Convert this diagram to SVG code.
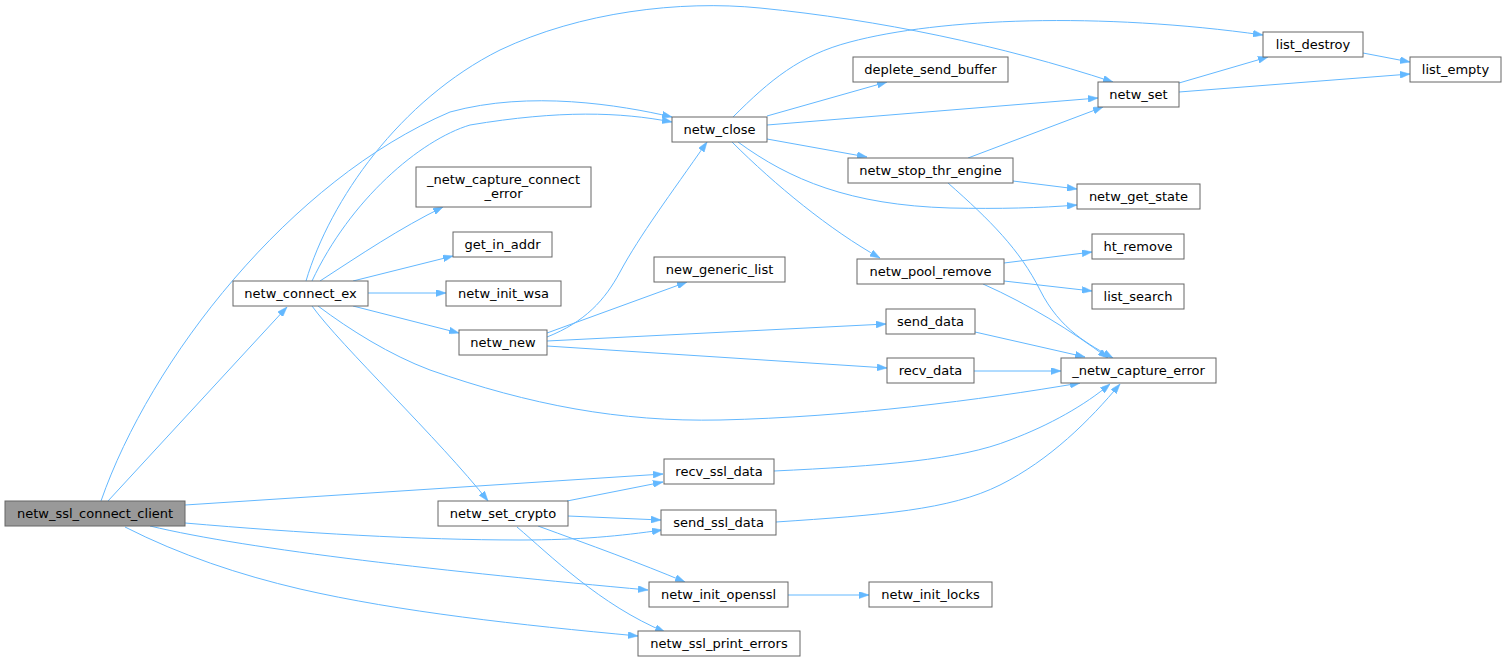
<svg xmlns="http://www.w3.org/2000/svg" width="1507" height="662" viewBox="0 0 1507 662">
<style>
.n rect{fill:#ffffff;stroke:#666666;stroke-width:1}
.n.root rect{fill:#999999}
.n text{font-family:"DejaVu Sans","Liberation Sans",sans-serif;font-size:13px;fill:#000000;text-anchor:middle}
.e path{fill:none;stroke:#63b8ff;stroke-width:1;marker-end:url(#ah)}
</style>
<defs>
<marker id="ah" viewBox="0 0 10 7" refX="10" refY="3.5" markerWidth="10" markerHeight="7" markerUnits="userSpaceOnUse" orient="auto">
<path d="M0,0 L10,3.5 L0,7 z" fill="#63b8ff" stroke="#63b8ff" stroke-width="0.5"/>
</marker>
</defs>
<rect width="1507" height="662" fill="#ffffff"/>
<g id="edges" class="e">
<path d="M108,501 L287,307"/>
<path d="M101,501 C150,360 290,180 450,112 C530,90 620,105 672,117"/>
<path d="M306,281 C330,200 400,100 500,50 C580,12 680,0 760,8 C880,20 1000,45 1113,82"/>
<path d="M312,281 C350,200 420,140 470,125 C560,110 620,112 672,122"/>
<path d="M320,281 C360,255 400,228 443,207"/>
<path d="M353,281 L453,256"/>
<path d="M368,293 L446,293"/>
<path d="M353,306 L459,333"/>
<path d="M312,306 C340,345 440,440 488,501"/>
<path d="M318,306 C350,330 390,355 430,370 C530,405 620,422 720,420 C850,417 980,400 1080,383"/>
<path d="M547,337 C585,322 605,300 620,272 C640,235 670,195 707,142"/>
<path d="M547,333 L687,282"/>
<path d="M547,341 L886,324"/>
<path d="M547,346 L887,368"/>
<path d="M733,117 C770,80 800,55 850,42 C940,18 1100,12 1263,35"/>
<path d="M767,116 L887,82"/>
<path d="M767,125 L1098,98"/>
<path d="M767,139 L867,157"/>
<path d="M738,142 C790,180 850,205 950,208 C1000,209 1040,208 1077,205"/>
<path d="M732,142 C775,185 830,230 880,258"/>
<path d="M968,158 L1103,107"/>
<path d="M1013,181 L1077,189"/>
<path d="M948,183 C990,220 1020,250 1040,290 C1060,330 1090,345 1113,358"/>
<path d="M983,284 C1030,305 1070,330 1108,358"/>
<path d="M1004,263 L1092,252"/>
<path d="M1004,281 L1092,291"/>
<path d="M975,332 L1085,357"/>
<path d="M974,371 L1061,371"/>
<path d="M1179,83 L1268,57"/>
<path d="M1179,92 L1410,74"/>
<path d="M1363,53 L1410,62"/>
<path d="M185,505 L663,474"/>
<path d="M185,523 C300,533 420,540 520,540 C580,540 620,536 662,530"/>
<path d="M150,526 C250,550 450,572 648,590"/>
<path d="M125,527 C180,555 240,575 300,589 C400,612 520,625 638,636"/>
<path d="M567,501 L663,482"/>
<path d="M568,516 L661,520"/>
<path d="M538,526 C590,545 640,563 685,582"/>
<path d="M517,527 C550,555 600,605 665,632"/>
<path d="M774,471 C880,466 960,460 1010,440 C1050,425 1085,405 1110,384"/>
<path d="M776,522 C880,515 950,510 1000,485 C1050,460 1090,420 1120,384"/>
<path d="M788,595 L869,595"/>
</g>
<g id="netw_ssl_connect_client" class="n root"><rect x="5" y="501" width="180" height="25"/><text x="95" y="518">netw_ssl_connect_client</text></g>
<g id="netw_connect_ex" class="n"><rect x="233" y="281" width="135" height="25"/><text x="300.5" y="298">netw_connect_ex</text></g>
<g id="_netw_capture_connect_error" class="n"><rect x="416" y="167" width="175" height="40"/><text x="503.5" y="183.5">_netw_capture_connect</text><text x="503.5" y="197.5">_error</text></g>
<g id="get_in_addr" class="n"><rect x="453" y="232" width="99" height="25"/><text x="502.5" y="249">get_in_addr</text></g>
<g id="netw_init_wsa" class="n"><rect x="446" y="281" width="115" height="25"/><text x="503.5" y="298">netw_init_wsa</text></g>
<g id="netw_new" class="n"><rect x="459" y="330" width="88" height="25"/><text x="503" y="347">netw_new</text></g>
<g id="netw_set_crypto" class="n"><rect x="438" y="501" width="130" height="25"/><text x="503" y="518">netw_set_crypto</text></g>
<g id="netw_close" class="n"><rect x="672" y="117" width="95" height="25"/><text x="719.5" y="134">netw_close</text></g>
<g id="new_generic_list" class="n"><rect x="654" y="257" width="131" height="25"/><text x="719.5" y="274">new_generic_list</text></g>
<g id="recv_ssl_data" class="n"><rect x="664" y="459" width="110" height="25"/><text x="719" y="476">recv_ssl_data</text></g>
<g id="send_ssl_data" class="n"><rect x="661" y="510" width="115" height="25"/><text x="718.5" y="527">send_ssl_data</text></g>
<g id="netw_init_openssl" class="n"><rect x="649" y="582" width="139" height="25"/><text x="718.5" y="599">netw_init_openssl</text></g>
<g id="netw_ssl_print_errors" class="n"><rect x="638" y="631" width="162" height="25"/><text x="719" y="648">netw_ssl_print_errors</text></g>
<g id="deplete_send_buffer" class="n"><rect x="853" y="57" width="155" height="25"/><text x="930.5" y="74">deplete_send_buffer</text></g>
<g id="netw_stop_thr_engine" class="n"><rect x="848" y="158" width="165" height="25"/><text x="930.5" y="175">netw_stop_thr_engine</text></g>
<g id="netw_pool_remove" class="n"><rect x="857" y="259" width="147" height="25"/><text x="930.5" y="276">netw_pool_remove</text></g>
<g id="send_data" class="n"><rect x="886" y="309" width="89" height="25"/><text x="930.5" y="326">send_data</text></g>
<g id="recv_data" class="n"><rect x="887" y="358" width="87" height="25"/><text x="930.5" y="375">recv_data</text></g>
<g id="netw_init_locks" class="n"><rect x="869" y="582" width="123" height="25"/><text x="930.5" y="599">netw_init_locks</text></g>
<g id="netw_set" class="n"><rect x="1098" y="82" width="81" height="25"/><text x="1138.5" y="99">netw_set</text></g>
<g id="netw_get_state" class="n"><rect x="1077" y="184" width="123" height="25"/><text x="1138.5" y="201">netw_get_state</text></g>
<g id="ht_remove" class="n"><rect x="1092" y="234" width="92" height="25"/><text x="1138" y="251">ht_remove</text></g>
<g id="list_search" class="n"><rect x="1092" y="284" width="92" height="25"/><text x="1138" y="301">list_search</text></g>
<g id="_netw_capture_error" class="n"><rect x="1061" y="358" width="155" height="25"/><text x="1138.5" y="375">_netw_capture_error</text></g>
<g id="list_destroy" class="n"><rect x="1263" y="32" width="100" height="25"/><text x="1313" y="49">list_destroy</text></g>
<g id="list_empty" class="n"><rect x="1410" y="57" width="91" height="25"/><text x="1455.5" y="74">list_empty</text></g>
</svg>
